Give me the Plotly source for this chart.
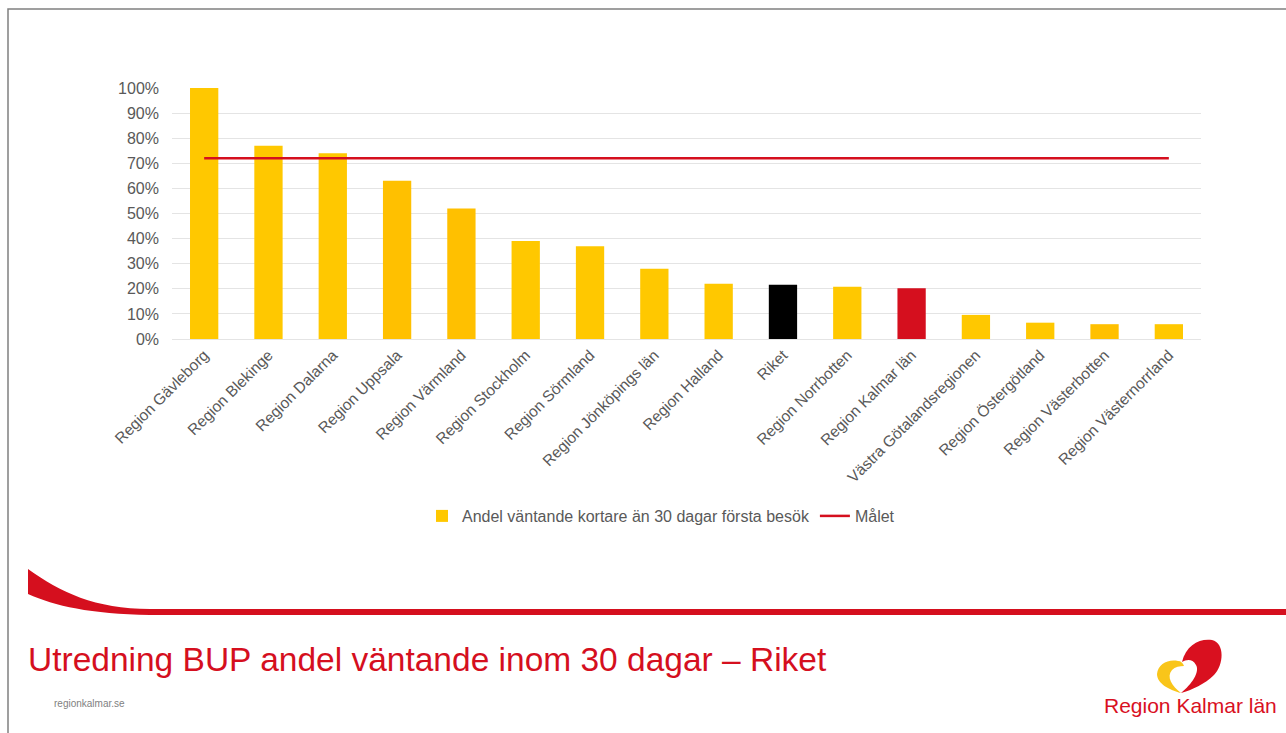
import plotly.graph_objects as go

# data
regions = [
    "Region Gävleborg", "Region Blekinge", "Region Dalarna", "Region Uppsala",
    "Region Värmland", "Region Stockholm", "Region Sörmland",
    "Region Jönköpings län", "Region Halland", "Riket", "Region Norrbotten",
    "Region Kalmar län", "Västra Götalandsregionen", "Region Östergötland",
    "Region Västerbotten", "Region Västernorrland",
]
andel = [100, 77, 74, 63, 52, 39, 37, 28, 22, 21.6, 20.8, 20.2, 9.6, 6.5, 5.9, 5.9]
malet = [72, 72, 72, 72, 72, 72, 72, 72, 72, 72, 72, 72, 72, 72, 72, 72]
y_ticks = [0, 10, 20, 30, 40, 50, 60, 70, 80, 90, 100]

W, H = 1286, 733
L, R, T, B = 172, 1201, 88, 339
FONT = "Liberation Sans, Arial, sans-serif"
RED = "#D50F1E"
YELLOW = "#FFC800"


def px(x):
    return (x - L) / (R - L)


def py(y):
    return (B - y) / (B - T)


def path(cmds):
    # cmds: list of (letter, [(x, y), ...]) in pixel coords
    out = []
    for c, pts in cmds:
        out.append(c + " " + " ".join(f"{px(x):.5f},{py(y):.5f}" for x, y in pts))
    return " ".join(out) + " Z"


colors = []
for r in regions:
    if r == "Riket":
        colors.append("#000000")
    elif r == "Region Kalmar län":
        colors.append(RED)
    elif r in ("Region Uppsala", "Region Värmland", "Region Västerbotten"):
        colors.append("#FFC000")
    else:
        colors.append(YELLOW)

fig = go.Figure()
fig.add_trace(go.Bar(
    x=regions, y=andel, marker=dict(color=colors, line_width=0),
    name="Andel väntande kortare än 30 dagar första besök"))
fig.add_trace(go.Scatter(
    x=regions, y=malet, mode="lines", line=dict(color=RED, width=2.5),
    name="Målet"))

shapes = []
# slide frame
shapes.append(dict(type="rect", xref="paper", yref="paper",
                   x0=px(8), x1=px(1300), y0=py(9), y1=py(760),
                   line=dict(color="#808080", width=1.5), layer="below"))
# red swoosh
shapes.append(dict(type="path", xref="paper", yref="paper",
                   path=path([("M", [(28, 569)]),
                              ("C", [(60, 592), (95, 609), (150, 609)]),
                              ("L", [(1290, 609)]),
                              ("L", [(1290, 615)]),
                              ("L", [(150, 615)]),
                              ("C", [(90, 614), (55, 606), (28, 594)])]),
                   fillcolor=RED, line_width=0))
# logo heart
shapes.append(dict(type="path", xref="paper", yref="paper",
                   path=path([("M", [(1182, 662)]),
                              ("C", [(1186, 645), (1200, 638), (1212, 640)]),
                              ("C", [(1225, 643), (1224, 665), (1214, 675)]),
                              ("C", [(1205, 684), (1192, 690), (1181, 693)]),
                              ("C", [(1192, 684), (1200, 672), (1196, 665)]),
                              ("C", [(1192, 658), (1186, 660), (1182, 662)])]),
                   fillcolor="#D9101F", line_width=0))
shapes.append(dict(type="path", xref="paper", yref="paper",
                   path=path([("M", [(1178, 661)]),
                              ("C", [(1168, 659), (1158, 664), (1157, 674)]),
                              ("C", [(1157, 684), (1170, 690), (1181, 693)]),
                              ("C", [(1172, 686), (1166, 677), (1172, 670)]),
                              ("C", [(1175, 667), (1180, 666), (1184, 666)]),
                              ("C", [(1183, 663), (1181, 661), (1178, 661)])]),
                   fillcolor="#F9C51A", line_width=0))

annotations = [
    dict(text="Utredning BUP andel väntande inom 30 dagar – Riket",
         xref="paper", yref="paper", x=px(26), y=py(660),
         xanchor="left", yanchor="middle", showarrow=False,
         font=dict(family=FONT, size=33.5, color=RED)),
    dict(text="regionkalmar.se", xref="paper", yref="paper",
         x=px(52), y=py(703), xanchor="left", yanchor="middle",
         showarrow=False, font=dict(family=FONT, size=10, color="#7f7f7f")),
    dict(text="Region Kalmar län", xref="paper", yref="paper",
         x=px(1190), y=py(705), xanchor="center", yanchor="middle",
         showarrow=False, font=dict(family=FONT, size=21, color="#D9101F")),
]

fig.update_layout(
    width=W, height=H,
    margin=dict(l=L, r=W - R, t=T, b=H - B, pad=0),
    paper_bgcolor="white", plot_bgcolor="white",
    font=dict(family=FONT, size=16, color="#595959"),
    bargap=0.56,
    showlegend=True,
    legend=dict(orientation="h", x=px(661), y=py(516), xanchor="center",
                yanchor="middle", font=dict(size=16, color="#595959"),
                itemwidth=30, tracegroupgap=0),
    shapes=shapes,
    annotations=annotations,
)
fig.update_yaxes(range=[0, 100], tickvals=y_ticks,
                 ticktext=[f"{v}%" for v in y_ticks],
                 showgrid=True, gridcolor="#E4E4E4", gridwidth=1,
                 zeroline=False, showline=False, ticklabelstandoff=12,
                 tickfont=dict(size=16, color="#595959"))
fig.update_xaxes(tickangle=-45, showgrid=False, showline=True,
                 linecolor="#E4E4E4", linewidth=1,
                 tickfont=dict(size=15.5, color="#595959"))

fig.write_html("out.html", config={"displayModeBar": False},
               post_script="document.body.style.margin='0';")
